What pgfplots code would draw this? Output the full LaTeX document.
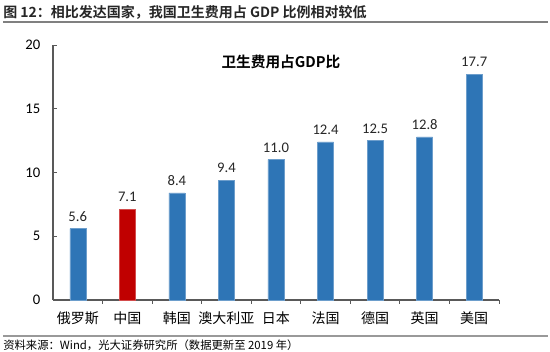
\documentclass[border=0pt]{standalone}
\usepackage{pgfplots}
\pgfplotsset{compat=1.18}
\usepackage{fontspec}
\setmainfont{Carlito}
\newfontfamily\cjk{Noto Sans CJK SC}
\newfontfamily\cjkb{Noto Sans CJK SC Bold}
\definecolor{barblue}{HTML}{2E75B6}
\definecolor{barred}{HTML}{C00000}
\definecolor{axgray}{HTML}{595959}
\begin{document}
\begin{tikzpicture}[x=0.75pt,y=0.75pt]
\useasboundingbox (0,0) rectangle (550,352);
\node[anchor=west,inner sep=0pt,text=black!85] at (3,340) {\fontsize{10.5pt}{12pt}\cjkb 图 12：相比发达国家，我国卫生费用占 GDP 比例相对较低};
\draw[gray,line width=0.9pt] (3,330) -- (548,330);
\draw[gray!80,line width=0.9pt] (3,16) -- (548,16);
\node[anchor=west,inner sep=0pt] at (3,7) {\fontsize{8.5pt}{10pt}\cjk 资料来源：Wind，光大证券研究所（数据更新至 2019 年）};
\begin{axis}[
  at={(39.75pt,39pt)}, anchor=south west,
  scale only axis, width=334.5pt, height=191.25pt,
  xmin=-0.5, xmax=8.5, ymin=0, ymax=20,
  axis lines=left, axis line style={-, axgray, line width=0.8pt},
  ytick={0,5,10,15,20},
  tick align=inside,
  major tick length=3pt,
  tick style={axgray, line width=0.6pt},
  xtick={0.5,1.5,2.5,3.5,4.5,5.5,6.5,7.5,8.5},
  xticklabels={},
  extra x ticks={0,...,8},
  extra x tick labels={俄罗斯,中国,韩国,澳大利亚,日本,法国,德国,英国,美国},
  extra x tick style={major tick length=0pt, tick label style={font=\fontsize{10.5pt}{12pt}\cjk, yshift=-5pt}},
  y tick label style={font=\fontsize{11pt}{12pt}\selectfont, xshift=-6pt},
  /pgf/number format/assume math mode=true,
  ybar, bar width=12pt, bar shift=0pt,
  nodes near coords,
  nodes near coords style={font=\fontsize{11pt}{12pt}\selectfont, text=black!85, /pgf/number format/fixed, /pgf/number format/fixed zerofill, /pgf/number format/precision=1, /pgf/number format/assume math mode=true, yshift=2pt},
  clip=false,
]
\addplot[fill=barblue, draw=barblue!70!white, line width=0.4pt, bar shift=0pt] coordinates {(0,5.6) (2,8.4) (3,9.4) (4,11.0) (5,12.4) (6,12.5) (7,12.8) (8,17.7)};
\addplot[fill=barred, draw=barred!70!white, line width=0.4pt, bar shift=0pt] coordinates {(1,7.1)};
\node[font=\fontsize{11pt}{12pt}\cjkb] at (axis cs:4.1,18.7) {卫生费用占GDP比};
\end{axis}
\end{tikzpicture}
\end{document}
